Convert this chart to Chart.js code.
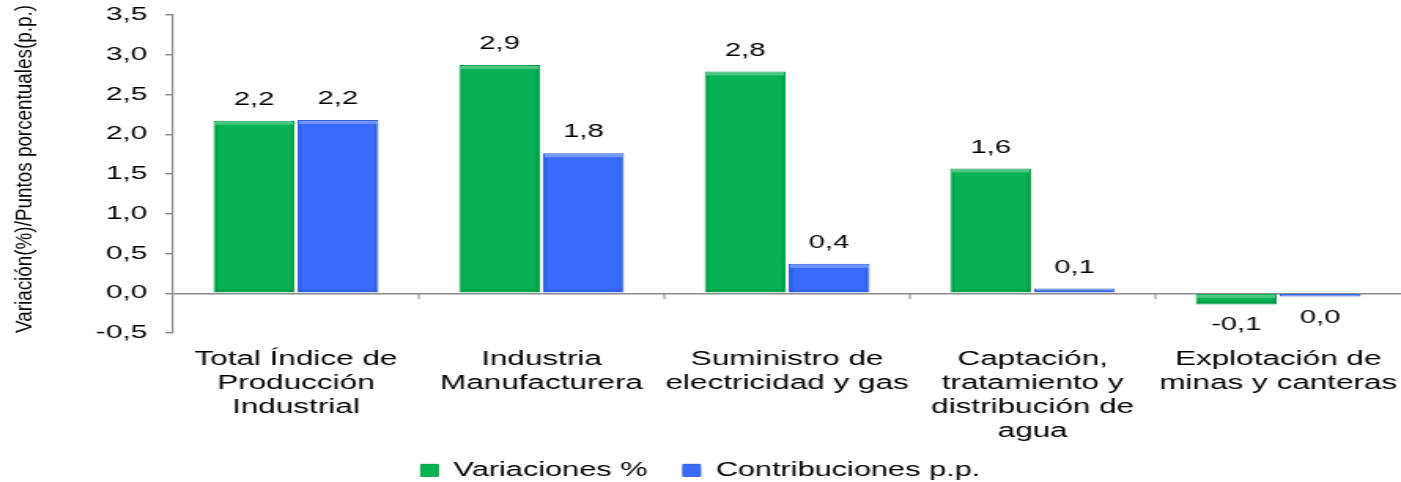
<!DOCTYPE html>
<html>
<head>
<meta charset="utf-8">
<script src="https://cdn.jsdelivr.net/npm/chart.js@4.4.1/dist/chart.umd.min.js"></script>
<style>
  html, body { margin: 0; padding: 0; background: #ffffff; overflow: hidden; }
  #c { display: block; }
</style>
</head>
<body>
<canvas id="c" width="890" height="482" style="width:1401px;height:482px;"></canvas>
<script>
// ---- data ----
const categories = [
  ["Total Índice de", "Producción", "Industrial"],
  ["Industria", "Manufacturera"],
  ["Suministro de", "electricidad y gas"],
  ["Captación,", "tratamiento y", "distribución de", "agua"],
  ["Explotación de", "minas y canteras"]
];
const variaciones = [2.17, 2.87, 2.79, 1.57, -0.14];
const contribuciones = [2.18, 1.76, 0.37, 0.06, -0.04];
const seriesNames = ["Variaciones %", "Contribuciones p.p."];
const yTitle = "Variación(%)/Puntos porcentuales(p.p.)";
const yMin = -0.5, yMax = 3.5, yStep = 0.5;

const FONT = "'Liberation Sans', Arial, sans-serif";
const GRAY = '#8a8a8a';

function fmt(v) {
  let s = Math.abs(v) < 0.05 ? '0.0' : v.toFixed(1);
  return s.replace('.', ',');
}

const bevel = {
  id: 'bevel',
  afterDatasetsDraw(chart) {
    const ctx = chart.ctx;
    ctx.save();
    chart.data.datasets.forEach((ds, di) => {
      const meta = chart.getDatasetMeta(di);
      meta.data.forEach((bar) => {
        const left = bar.x - bar.width / 2, right = bar.x + bar.width / 2;
        const top = Math.min(bar.y, bar.base), bottom = Math.max(bar.y, bar.base);
        const h = bottom - top;
        if (h < 1) return;
        const e = Math.min(3, h / 3);
        // top highlight
        ctx.fillStyle = 'rgba(255,255,255,0.28)';
        ctx.fillRect(left + 1, top + 1, right - left - 2, e);
        // side / bottom shading
        ctx.fillStyle = 'rgba(0,0,0,0.10)';
        ctx.fillRect(left + 1, top + 1 + e, 1.5, h - 2 - e);
        ctx.fillRect(right - 2.5, top + 1 + e, 1.5, h - 2 - e);
        ctx.fillRect(left + 1, bottom - 1 - Math.min(2, e), right - left - 2, Math.min(2, e));
      });
    });
    ctx.restore();
  }
};

const valueLabels = {
  id: 'valueLabels',
  afterDatasetsDraw(chart) {
    const ctx = chart.ctx;
    ctx.save();
    ctx.font = '18.5px ' + FONT;
    ctx.fillStyle = '#000';
    ctx.textAlign = 'center';
    ctx.textBaseline = 'middle';
    chart.data.datasets.forEach((ds, di) => {
      const meta = chart.getDatasetMeta(di);
      meta.data.forEach((bar, i) => {
        const v = ds.data[i];
        const y = v >= 0 ? bar.y - 21 : bar.y + 21;
        ctx.fillText(fmt(v), bar.x, y);
      });
    });
    ctx.restore();
  }
};

const extras = {
  id: 'extras',
  afterLayout(chart) {
    const xs = chart.scales.x;
    if (xs) xs._computeLabelArea = () => undefined;
  },
  afterDraw(chart) {
    const ctx = chart.ctx;
    const xs = chart.scales.x, ys = chart.scales.y;
    const y0 = ys.getPixelForValue(0);
    ctx.save();
    ctx.strokeStyle = GRAY;
    ctx.lineWidth = 1;
    for (let i = 1; i < categories.length; i++) {
      const xb = (xs.getPixelForValue(i - 1) + xs.getPixelForValue(i)) / 2;
      ctx.beginPath();
      ctx.moveTo(xb, y0);
      ctx.lineTo(xb, y0 + 6);
      ctx.stroke();
    }
    // rotated axis title
    ctx.fillStyle = '#000';
    ctx.font = '14px ' + FONT;
    ctx.textAlign = 'center';
    ctx.textBaseline = 'middle';
    const w = ctx.measureText(yTitle).width;
    const target = 328;
    ctx.translate(16.5, 169);
    ctx.rotate(-Math.PI / 2);
    ctx.scale(target / w, 1);
    ctx.fillText(yTitle, 0, 0);
    ctx.restore();
  }
};

new Chart(document.getElementById('c'), {
  type: 'bar',
  data: {
    labels: categories,
    datasets: [
      {
        label: seriesNames[0],
        data: variaciones,
        backgroundColor: '#06b254',
        borderColor: '#05a04a',
        borderWidth: 1,
        categoryPercentage: 0.684,
        barPercentage: 0.964
      },
      {
        label: seriesNames[1],
        data: contribuciones,
        backgroundColor: '#386bfb',
        borderColor: '#2f5de0',
        borderWidth: 1,
        categoryPercentage: 0.684,
        barPercentage: 0.964
      }
    ]
  },
  options: {
    responsive: false,
    animation: false,
    devicePixelRatio: 1,
    layout: { padding: { top: 15, left: 0, right: 0, bottom: 0 } },
    plugins: {
      legend: {
        position: 'bottom',
        maxHeight: 44,
        labels: {
          font: { family: FONT, size: 19.5 },
          color: '#000',
          boxWidth: 11,
          boxHeight: 12,
          padding: 22.6
        }
      },
      tooltip: { enabled: false },
      title: { display: false }
    },
    scales: {
      x: {
        grid: { display: false, drawTicks: false },
        border: { display: false },
        ticks: {
          font: { family: FONT, size: 20, lineHeight: 1.2 },
          color: '#000',
          maxRotation: 0,
          minRotation: 0,
          autoSkip: false,
          padding: 14
        },
        afterFit(scale) {
          scale.height = 105;
          scale.paddingLeft = 0;
          scale.paddingRight = 0;
        }
      },
      y: {
        min: yMin,
        max: yMax,
        border: { display: true, color: GRAY, width: 1.2 },
        grid: {
          drawOnChartArea: true,
          color: (c) => (c.tick && c.tick.value === 0 ? GRAY : 'rgba(0,0,0,0)'),
          lineWidth: 1.4,
          tickColor: GRAY,
          tickLength: 5
        },
        ticks: {
          stepSize: yStep,
          font: { family: FONT, size: 19 },
          color: '#000',
          padding: 11.4,
          callback: (v) => Number(v).toFixed(1).replace('.', ',')
        },
        afterFit(scale) {
          scale.width = 110;
          scale.paddingTop = 0;
          scale.paddingBottom = 0;
        }
      }
    }
  },
  plugins: [bevel, valueLabels, extras]
});
</script>
</body>
</html>
